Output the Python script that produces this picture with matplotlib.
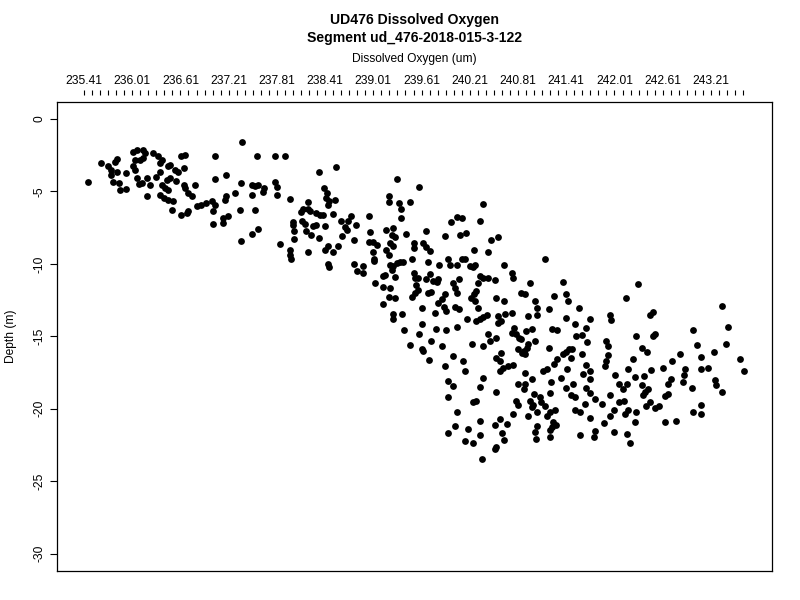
import numpy as np
import matplotlib
matplotlib.use("Agg")
import matplotlib.pyplot as plt
from matplotlib.ticker import FixedLocator, NullFormatter

plt.rcParams["font.family"] = ["Liberation Sans", "DejaVu Sans"]

TITLE = "UD476 Dissolved Oxygen"
SUBTITLE = "Segment ud_476-2018-015-3-122"
X_LABEL = "Dissolved Oxygen (um)"
Y_LABEL = "Depth (m)"

# (oxygen, depth) pairs
points = [
    (235.46, -4.36), (235.62, -3.05), (235.71, -3.28), (235.75, -3.51), (235.80, -2.94),
    (235.82, -2.75), (235.75, -3.90), (235.77, -4.38), (235.84, -4.43), (235.86, -4.89),
    (235.93, -4.82), (235.82, -3.63), (235.93, -3.70), (236.02, -2.25), (236.07, -2.13),
    (236.15, -2.13), (236.17, -2.36), (236.15, -2.70), (236.11, -2.82), (236.04, -2.82),
    (236.02, -3.28), (236.04, -3.51), (236.07, -4.08), (236.09, -4.49), (236.13, -4.43),
    (236.19, -4.08), (236.23, -4.54), (236.19, -5.35), (236.27, -2.36), (236.33, -2.59),
    (236.38, -2.82), (236.36, -3.05), (236.31, -4.04), (236.36, -3.63), (236.38, -4.54),
    (236.42, -4.77), (236.46, -4.89), (236.36, -5.23), (236.40, -5.46), (236.46, -5.57),
    (236.52, -5.69), (236.50, -6.26), (236.46, -3.28), (236.48, -3.17), (236.44, -4.20),
    (236.48, -4.08), (236.54, -3.51), (236.58, -3.67), (236.65, -3.39), (236.56, -4.27),
    (236.62, -2.59), (236.67, -2.48), (236.65, -4.54), (236.67, -4.77), (236.71, -5.11),
    (236.75, -5.35), (236.79, -4.59), (236.62, -6.61), (236.69, -6.49), (236.71, -6.38),
    (236.81, -6.04), (236.87, -5.97), (236.93, -5.80), (237.00, -5.69), (237.04, -5.92),
    (237.02, -6.38), (237.04, -2.59), (237.04, -4.13), (237.18, -3.85), (237.18, -5.35),
    (237.16, -5.57), (237.02, -7.25), (237.14, -6.83), (237.14, -7.18), (237.20, -6.72),
    (237.37, -1.60), (237.56, -2.55), (237.79, -2.53), (237.91, -2.53), (237.36, -4.43),
    (237.50, -4.59), (237.54, -4.66), (237.58, -4.54), (237.65, -4.77), (237.64, -5.04),
    (237.79, -4.32), (237.81, -4.73), (237.81, -5.23), (237.50, -5.28), (237.29, -5.11),
    (237.97, -5.53), (237.35, -6.26), (237.54, -6.31), (237.57, -7.59), (237.50, -7.94),
    (237.36, -8.40), (237.85, -8.60), (237.97, -9.06), (237.97, -9.41), (237.98, -9.64),
    (238.20, -9.17), (238.01, -7.14), (238.01, -7.30), (238.02, -7.76), (238.02, -8.26),
    (238.11, -6.42), (238.14, -6.19), (238.20, -6.19), (238.22, -6.33), (238.20, -5.76),
    (238.12, -7.07), (238.16, -7.25), (238.17, -7.76), (238.24, -7.98), (238.26, -7.41),
    (238.30, -7.30), (238.30, -6.49), (238.35, -6.66), (238.38, -6.66), (238.34, -8.21),
    (238.41, -7.41), (238.34, -3.63), (238.55, -3.30), (238.40, -4.77), (238.43, -5.11),
    (238.42, -5.46), (238.46, -5.69), (238.45, -5.92), (238.53, -5.57), (238.51, -6.54),
    (238.44, -8.74), (238.41, -9.08), (238.51, -9.17), (238.57, -8.74), (238.45, -10.00),
    (238.46, -10.23), (238.61, -7.07), (238.66, -7.48), (238.68, -7.64), (238.70, -7.02),
    (238.73, -6.72), (238.79, -7.30), (238.62, -8.10), (238.77, -8.35), (238.77, -10.00),
    (238.81, -10.51), (238.88, -10.17), (238.88, -10.62), (238.95, -6.68), (238.97, -7.83),
    (238.95, -8.51), (239.01, -8.51), (239.06, -8.67), (239.01, -9.17), (239.02, -9.64),
    (239.02, -9.82), (239.03, -11.31),
    (239.30, -4.15), (239.58, -4.73), (239.20, -5.35), (239.20, -5.73), (239.33, -5.80),
    (239.36, -6.21), (239.47, -5.73), (239.36, -6.83), (239.17, -7.64), (239.26, -7.52),
    (239.24, -7.98), (239.28, -8.17), (239.22, -8.55), (239.26, -8.79), (239.17, -9.08),
    (239.20, -9.41), (239.42, -7.91), (239.51, -8.55), (239.51, -8.90), (239.49, -9.64),
    (239.63, -8.55), (239.66, -8.86), (239.71, -9.13), (239.66, -7.76), (239.22, -10.05),
    (239.26, -10.17), (239.30, -9.93), (239.34, -9.86), (239.38, -9.89), (239.24, -10.46),
    (239.15, -10.74), (239.13, -10.85), (239.28, -10.92), (239.13, -11.61), (239.22, -11.70),
    (239.21, -12.30), (239.28, -12.34), (239.13, -12.75), (239.26, -13.44), (239.25, -13.83),
    (239.37, -13.49), (239.39, -14.57), (239.46, -15.60), (239.51, -10.62), (239.53, -10.96),
    (239.57, -10.96), (239.54, -11.47), (239.56, -11.84), (239.53, -12.00), (239.49, -12.30),
    (239.62, -13.03), (239.61, -14.13), (239.58, -14.87), (239.62, -15.90), (239.63, -16.02),
    (239.70, -16.66), (239.69, -9.89), (239.67, -11.08), (239.71, -10.69), (239.75, -11.20),
    (239.80, -11.24), (239.82, -11.08), (239.69, -12.00), (239.73, -11.93), (239.83, -10.05),
    (239.78, -13.37), (239.73, -15.33), (239.79, -14.52), (239.90, -8.05), (239.97, -7.14),
    (240.05, -6.77), (240.11, -6.83), (239.94, -9.70), (239.96, -10.05), (239.90, -12.06),
    (239.86, -12.46), (239.82, -12.68), (239.89, -12.99), (239.92, -13.26), (239.91, -14.57),
    (239.87, -15.67), (239.90, -17.05), (240.00, -11.31), (240.02, -11.70), (240.05, -12.00),
    (240.07, -11.08), (240.02, -12.99), (240.07, -13.15), (240.05, -14.36), (240.00, -16.36),
    (239.94, -18.12), (240.00, -18.42), (239.94, -19.22), (240.05, -20.25), (240.02, -21.18),
    (239.94, -21.70), (240.09, -7.98), (240.16, -7.87), (240.11, -9.70), (240.15, -9.64),
    (240.05, -10.05), (240.12, -16.70), (240.15, -17.43), (240.17, -13.83), (240.19, -21.40),
    (240.15, -22.21), (240.25, -22.39), (240.21, -10.17), (240.25, -10.23), (240.27, -10.05),
    (240.26, -9.02), (240.24, -15.55), (240.25, -19.57), (240.29, -19.50), (240.23, -12.34),
    (240.26, -12.11), (240.29, -11.89), (240.27, -12.57), (240.31, -13.08), (240.31, -11.31),
    (240.34, -10.85), (240.38, -11.01), (240.29, -13.95), (240.34, -13.83), (240.38, -13.68),
    (240.42, -13.54), (240.34, -20.83), (240.34, -21.82), (240.36, -23.47), (240.37, -5.87),
    (240.34, -7.07), (240.37, -17.85), (240.34, -18.49), (240.44, -10.96), (240.44, -9.20),
    (240.47, -8.33), (240.56, -8.14), (240.52, -11.15), (240.54, -12.34), (240.63, -12.57),
    (240.63, -10.05), (240.73, -10.62), (240.75, -10.96), (240.56, -13.61), (240.56, -14.06),
    (240.60, -13.95), (240.65, -13.44), (240.73, -13.37), (240.44, -14.87), (240.46, -15.33),
    (240.54, -15.09), (240.38, -15.67), (240.60, -16.13), (240.54, -16.47), (240.58, -16.70),
    (240.58, -17.39), (240.62, -17.21), (240.69, -17.05), (240.75, -17.00), (240.54, -18.88),
    (240.75, -20.37), (240.67, -21.06), (240.58, -20.72), (240.52, -21.11), (240.61, -21.70),
    (240.63, -22.16), (240.52, -22.78), (240.53, -22.62), (240.76, -14.40), (240.79, -14.87),
    (240.82, -15.09), (240.81, -18.31), (240.79, -19.50), (240.81, -19.73), (240.85, -12.00),
    (240.81, -15.90),
    (241.15, -9.66), (240.96, -11.31), (240.90, -12.11), (241.37, -11.27), (241.41, -12.11),
    (241.43, -12.57), (241.26, -12.23), (241.02, -12.57), (241.05, -13.03), (241.20, -13.15),
    (241.57, -13.03), (242.30, -11.42), (242.15, -12.34), (240.94, -13.61), (241.05, -13.56),
    (241.41, -13.76), (241.52, -14.18), (241.65, -14.40), (241.71, -13.83), (241.95, -13.56),
    (241.97, -13.90), (241.23, -14.47), (241.30, -14.59), (240.98, -14.47), (240.85, -15.21),
    (240.91, -14.64), (240.73, -14.80), (241.53, -14.98), (241.60, -14.93), (241.67, -15.40),
    (241.02, -15.33), (240.94, -15.55), (240.92, -15.78), (240.88, -16.02), (240.90, -16.24),
    (240.86, -16.13), (241.20, -15.78), (241.37, -16.24), (241.41, -16.08), (241.45, -15.90),
    (241.48, -15.85), (241.47, -16.47), (241.61, -16.24), (241.90, -15.33), (241.93, -15.67),
    (242.28, -14.98), (241.93, -16.31), (241.91, -16.70), (241.89, -17.05), (242.24, -16.59),
    (241.29, -16.54), (241.26, -16.93), (241.17, -17.27), (241.12, -17.39), (241.65, -17.00),
    (241.70, -17.39), (241.42, -17.27), (241.62, -17.62), (241.70, -17.92), (242.18, -17.23),
    (242.26, -17.80), (242.02, -17.69), (242.07, -18.31), (242.11, -18.65), (242.16, -18.31),
    (240.90, -17.55), (240.90, -18.31), (240.88, -18.65), (240.99, -17.92), (241.22, -18.15),
    (241.35, -17.85), (241.50, -18.26), (241.41, -18.60), (241.47, -19.06), (241.52, -19.22),
    (241.21, -18.93), (241.65, -18.60), (241.70, -18.93), (241.01, -19.00), (241.08, -19.22),
    (241.10, -19.57), (241.14, -19.80), (240.96, -19.46), (241.00, -19.75), (240.98, -19.91),
    (240.94, -20.49), (241.05, -20.25), (241.21, -20.25), (241.17, -20.49), (241.27, -20.08),
    (241.77, -19.34), (241.64, -19.68), (241.86, -19.68), (241.96, -19.06), (242.07, -19.57),
    (242.13, -19.46), (242.01, -20.08), (242.18, -20.08), (242.28, -20.21), (241.52, -20.08),
    (241.58, -20.21), (241.70, -20.67), (241.95, -20.49), (242.14, -20.37), (241.88, -20.99),
    (242.26, -20.90), (241.25, -20.90), (241.28, -21.13), (241.23, -21.29), (241.21, -21.45),
    (241.04, -21.18), (241.02, -21.59), (241.21, -21.98), (241.03, -22.09), (241.58, -21.82),
    (241.77, -21.52), (241.75, -21.98), (242.01, -21.59), (242.16, -21.75), (242.20, -22.37),
    (242.45, -13.56), (242.49, -13.33), (243.35, -12.92), (243.42, -14.36), (242.99, -14.59),
    (242.49, -14.98), (242.51, -14.82), (243.04, -15.60), (243.40, -15.55), (243.25, -16.06),
    (242.35, -15.78), (242.42, -16.08), (242.82, -16.24), (243.09, -16.43), (242.72, -16.70),
    (243.57, -16.54), (243.62, -17.39), (242.61, -17.16), (242.89, -17.23), (243.09, -17.23),
    (243.17, -17.21), (242.46, -17.32), (242.38, -17.74), (242.87, -17.69), (242.86, -18.15),
    (242.71, -17.97), (242.68, -18.31), (243.26, -18.01), (243.27, -18.38), (242.35, -18.35),
    (242.43, -18.65), (242.39, -18.88), (242.37, -19.06), (242.98, -18.60), (243.35, -18.88),
    (242.68, -19.00), (242.64, -19.15), (242.45, -19.57), (242.40, -19.80), (242.57, -19.80),
    (242.51, -19.98), (243.09, -19.75), (242.99, -20.25), (243.09, -20.39), (242.64, -20.94),
    (242.78, -20.83),
]
oxygen = [p[0] for p in points]
depth = [p[1] for p in points]

x_tick_labels = ["235.41", "236.01", "236.61", "237.21", "237.81", "238.41", "239.01",
                 "239.61", "240.21", "240.81", "241.41", "242.01", "242.61", "243.21"]
y_ticks = [0, -5, -10, -15, -20, -25, -30]

fig = plt.figure(figsize=(8, 6), dpi=100)
ax = fig.add_axes([0.07125, 0.0483, 0.89375, 0.7825])

ax.plot(oxygen, depth, linestyle="none", marker="o", markersize=4.9,
        markeredgewidth=0, color="black")

ax.set_xlim(235.074, 243.97)
ax.set_ylim(-31.2, 1.2)

# top axis: ticks every 0.1, labels every 0.6, drawn a little above the box
ax.xaxis.tick_top()
ax.xaxis.set_label_position("top")
major = [float(s) for s in x_tick_labels]
ax.xaxis.set_major_locator(FixedLocator(major))
ax.set_xticklabels(x_tick_labels)
ax.xaxis.set_minor_locator(FixedLocator(np.round(235.41 + 0.1 * np.arange(83), 2)))
ax.xaxis.set_minor_formatter(NullFormatter())
ax.tick_params(axis="x", which="both", direction="out", length=3.6, width=0.8,
               labelsize=8.64, pad=2.5)
ax.spines["top"].set_position(("outward", 4.5))
ax.spines["top"].set_visible(False)
ax.plot([0, 1], [1, 1], transform=ax.transAxes, color="black", lw=0.9, clip_on=False)
ax.set_xlabel(X_LABEL, fontsize=8.64, labelpad=9)

ax.set_yticks(y_ticks)
ax.set_yticklabels([str(v) for v in y_ticks], rotation=90, va="center")
ax.tick_params(axis="y", direction="out", length=5, width=0.8, labelsize=8.64, pad=3.5)
ax.set_ylabel(Y_LABEL, fontsize=8.64, labelpad=12)

for s in ["left", "right", "bottom"]:
    ax.spines[s].set_linewidth(0.9)

fig.text(0.518, 1 - 20 / 600, TITLE, ha="center", va="center", fontsize=10.1, fontweight="bold")
fig.text(0.518, 1 - 38 / 600, SUBTITLE, ha="center", va="center", fontsize=10.1, fontweight="bold")

fig.savefig("out.png", dpi=100)
